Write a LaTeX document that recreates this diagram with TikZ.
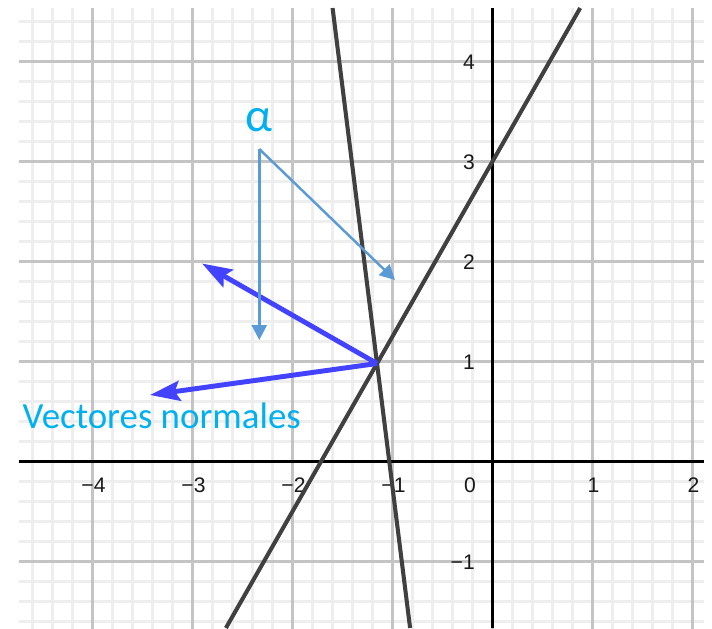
\documentclass[tikz,border=0pt]{standalone}
\usepackage{fontspec}
\setmainfont{Carlito}
\newfontfamily\tickfont{Liberation Sans}
\usetikzlibrary{arrows.meta}
\definecolor{gridmaj}{RGB}{196,196,196}
\definecolor{gridmin}{RGB}{238,238,238}
\definecolor{ink}{RGB}{64,64,64}
\definecolor{vec}{RGB}{66,66,255}
\definecolor{callout}{RGB}{91,155,213}
\definecolor{skyl}{RGB}{0,176,240}
\tikzset{
  minorgrid/.style={draw=gridmin,line width=0.6pt},
  majorgrid/.style={draw=gridmaj,line width=0.6pt},
  axis/.style={draw=black,line width=0.6pt},
  rline/.style={draw=ink,line width=1.15pt},
  nvec/.style={draw=vec,line width=1.4pt,-{Stealth[length=3mm,width=2mm,inset=0.5mm]}},
  pointer/.style={draw=callout,line width=0.7pt,-{Triangle[length=1.5mm,width=1.5mm]}},
  ticklab/.style={font=\tickfont\fontsize{6}{7}\selectfont,text=black!90,inner sep=0pt},
  lab/.style={text=skyl,inner sep=0pt},
}

\begin{document}
\begin{tikzpicture}
  \useasboundingbox (-4.925,-1.665) rectangle (2.195,4.615);
  % grid
  \begin{scope}
    \clip (-4.735,-1.665) rectangle (2.115,4.535);
    \draw[minorgrid,step=0.2] (-5,-2) grid (3,5);
    \draw[majorgrid,step=1] (-5,-2) grid (3,5);
  \end{scope}
  \coordinate (xl) at (-4.735,0); \coordinate (xr) at (2.115,0);
  \coordinate (yb) at (0,-1.665); \coordinate (yt) at (0,4.535);
  \draw[axis] (xl) -- (xr);
  \draw[axis] (yb) -- (yt);
  % ticks
  \foreach \k/\s in {-4/−4,-3/−3,-2/−2,-1/−1,1/1,2/2}
    \node[ticklab] (xt\k) at (\k+0.01,-0.24) {\s};
  \node[ticklab] (xt0) at (-0.225,-0.24) {0};
  \foreach \k/\s in {-1/−1,1/1,2/2,3/3,4/4}
    \node[ticklab,anchor=east] (yt\k) at (-0.17,\k-0.01) {\s};
  % the two lines
  \coordinate (a1) at (-2.666,-1.665); \coordinate (a2) at (0.877,4.535);
  \coordinate (b1) at (-1.599,4.535); \coordinate (b2) at (-0.824,-1.665);
  \draw[rline] (a1) -- (a2);
  \draw[rline] (b1) -- (b2);
  % normal vectors
  \coordinate (P) at (-1.1545,0.98);
  \coordinate (n1) at (-2.9045,1.98);
  \coordinate (n2) at (-3.425,0.665);
  \draw[nvec] (P) -- (n1);
  \draw[nvec] (P) -- (n2);
  % labels
  \node[lab,anchor=base west,font=\fontsize{10.5}{12}\selectfont] (vn) at (-4.705,0.335) {Vectores normales};
  \node[lab,anchor=base,font=\fontsize{13.5}{15}\selectfont] (al) at (-2.335,3.305) {α};
  \coordinate (c) at (-2.332,3.125);
  \coordinate (d) at (-2.332,1.215);
  \coordinate (e) at (-0.975,1.815);
  \draw[pointer] (c) -- (d);
  \draw[pointer] (c) -- (e);
\end{tikzpicture}
\end{document}
